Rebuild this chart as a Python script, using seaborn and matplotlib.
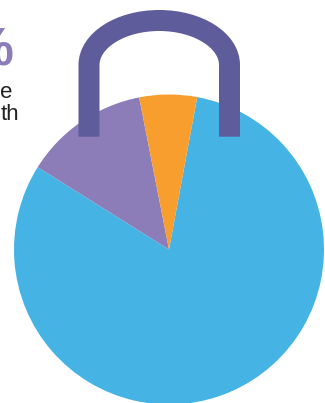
import numpy as np
import seaborn as sns
import matplotlib
matplotlib.use("Agg")
import matplotlib.pyplot as plt
from matplotlib.path import Path
from matplotlib.patches import PathPatch

# slices, clockwise from the blue one
shares = [81, 13, 6]
colors = ["#45B4E4", "#8C7DB9", "#F79E2E"]
big_label = "%"
small_labels = ["e", "th"]

W, H = 325, 403

sns.set_theme(style="white")
plt.rcParams["font.family"] = ["Liberation Sans", "DejaVu Sans"]

fig = plt.figure(figsize=(W / 100, H / 100), dpi=100, facecolor="white")

# pie axes, in pixels of the figure
cx, cy, r = 169, 249.5, 155
ax = fig.add_axes([(cx - r) / W, 1 - (cy + r) / H, 2 * r / W, 2 * r / H])
ax.pie(shares, colors=colors, startangle=79.5, counterclock=False, radius=1,
       wedgeprops={"linewidth": 0})
ax.set_xlim(-1, 1)
ax.set_ylim(-1, 1)
ax.axis("off")

# padlock shackle on top, overlay axes in pixel units
over = fig.add_axes([0, 0, 1, 1])
over.set_xlim(0, W)
over.set_ylim(H, 0)
over.axis("off")
over.patch.set_alpha(0)

k = 0.5523
x0, x1, xm = 89, 229.5, 159.2
yb, ys, yt = 136.7, 65, 20.5
rx = (x1 - x0) / 2
ry = ys - yt
verts = [(x0, yb), (x0, ys),
         (x0, ys - k * ry), (xm - k * rx, yt), (xm, yt),
         (xm + k * rx, yt), (x1, ys - k * ry), (x1, ys),
         (x1, yb)]
codes = [Path.MOVETO, Path.LINETO,
         Path.CURVE4, Path.CURVE4, Path.CURVE4,
         Path.CURVE4, Path.CURVE4, Path.CURVE4,
         Path.LINETO]
over.add_patch(PathPatch(Path(verts, codes), fill=False, edgecolor="#5F5C9C",
                         linewidth=21 * 72 / 100, capstyle="butt", joinstyle="round"))

# text cut off by the left edge of the picture
over.text(14, 65, big_label, color="#8C7DB9", fontsize=38, fontweight="bold",
          ha="right", va="baseline")
over.text(12.5, 98, small_labels[0], color="#222222", fontsize=16, ha="right", va="baseline")
over.text(19.5, 120, small_labels[1], color="#222222", fontsize=16, ha="right", va="baseline")

fig.savefig("out.png", dpi=100)
